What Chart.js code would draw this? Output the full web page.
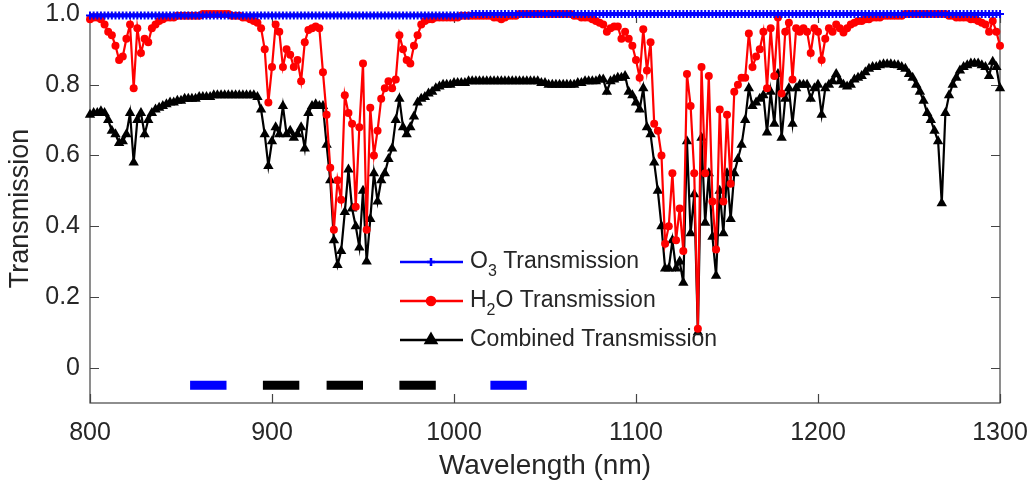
<!DOCTYPE html>
<html>
<head>
<meta charset="utf-8">
<script src="https://cdn.jsdelivr.net/npm/chart.js@4.4.1/dist/chart.umd.min.js"></script>
<style>
  html, body { margin: 0; padding: 0; background: #fff; }
  canvas { display: block; }
</style>
</head>
<body>
<canvas id="trans" width="1029" height="488"></canvas>
<script>
// wavelength grid, 800..1300 nm every 2 nm
const wavelengths = [];
for (let w = 800; w <= 1300; w += 2) wavelengths.push(w);

// ozone transmission
const o3 = [
  0.996,0.996,0.996,0.996,0.996,0.996,0.996,0.996,0.996,0.996,
  0.996,0.996,0.996,0.996,0.996,0.996,0.996,0.996,0.996,0.996,
  0.996,0.996,0.996,0.996,0.996,0.996,0.996,0.996,0.996,0.996,
  0.996,0.996,0.996,0.996,0.996,0.996,0.996,0.996,0.996,0.996,
  0.996,0.996,0.996,0.996,0.996,0.996,0.996,0.996,0.996,0.996,
  0.996,0.996,0.996,0.996,0.996,0.996,0.996,0.996,0.996,0.996,
  0.996,0.996,0.996,0.996,0.996,0.996,0.996,0.996,0.996,0.996,
  0.996,0.996,0.996,0.996,0.996,0.996,0.996,0.996,0.996,0.996,
  0.996,0.996,0.996,0.996,0.996,0.996,0.996,0.996,0.996,0.996,
  0.996,0.996,0.996,0.996,0.996,0.996,0.996,0.996,0.996,0.996,
  0.996,0.996,0.996,0.996,0.996,1.0,1.0,1.0,1.0,1.0,
  1.0,1.0,1.0,1.0,1.0,1.0,1.0,1.0,1.0,1.0,
  1.0,1.0,1.0,1.0,1.0,1.0,1.0,1.0,1.0,1.0,
  1.0,1.0,1.0,1.0,1.0,1.0,1.0,1.0,1.0,1.0,
  1.0,1.0,1.0,1.0,1.0,1.0,1.0,1.0,1.0,1.0,
  1.0,1.0,1.0,1.0,1.0,1.0,1.0,1.0,1.0,1.0,
  1.0,1.0,1.0,1.0,1.0,1.0,1.0,1.0,1.0,1.0,
  1.0,1.0,1.0,1.0,1.0,1.0,1.0,1.0,1.0,1.0,
  1.0,1.0,1.0,1.0,1.0,1.0,1.0,1.0,1.0,1.0,
  1.0,1.0,1.0,1.0,1.0,1.0,1.0,1.0,1.0,1.0,
  1.0,1.0,1.0,1.0,1.0,1.0,1.0,1.0,1.0,1.0,
  1.0,1.0,1.0,1.0,1.0,1.0,1.0,1.0,1.0,1.0,
  1.0,1.0,1.0,1.0,1.0,1.0,1.0,1.0,1.0,1.0,
  1.0,1.0,1.0,1.0,1.0,1.0,1.0,1.0,1.0,1.0,
  1.0,1.0,1.0,1.0,1.0,1.0,1.0,1.0,1.0,1.0,
  1.0
];

// water vapour transmission
const h2o = [
  0.985,0.99,0.99,0.985,0.97,0.95,0.94,0.91,0.87,0.88,        // 800
  0.93,0.97,0.79,0.96,0.89,0.93,0.92,0.96,0.97,0.98,          // 820
  0.985,0.99,0.99,0.99,0.995,0.995,0.995,0.995,0.995,0.995,   // 840
  0.995,1.0,1.0,1.0,1.0,1.0,1.0,1.0,1.0,0.995,                // 860
  0.995,0.995,0.99,0.99,0.985,0.98,0.975,0.96,0.90,0.75,      // 880
  0.85,0.97,0.95,0.85,0.90,0.885,0.85,0.87,0.81,0.92,         // 900
  0.955,0.96,0.965,0.96,0.835,0.715,0.565,0.39,0.53,0.475,    // 920
  0.77,0.72,0.69,0.455,0.68,0.86,0.39,0.735,0.60,0.67,        // 940
  0.76,0.79,0.81,0.79,0.815,0.94,0.90,0.87,0.86,0.91,         // 960
  0.94,0.97,0.98,0.985,0.985,0.99,0.99,0.99,0.99,0.99,        // 980
  0.99,0.99,0.995,0.995,0.995,0.995,0.995,0.995,0.995,0.995,  // 1000
  0.995,0.99,0.99,0.985,0.99,0.995,0.995,0.995,1.0,1.0,       // 1020
  1.0,1.0,1.0,1.0,1.0,1.0,1.0,1.0,1.0,1.0,                    // 1040
  1.0,1.0,1.0,0.995,0.995,0.99,0.99,0.99,0.985,0.98,          // 1060
  0.975,0.97,0.95,0.96,0.965,0.965,0.93,0.95,0.93,0.91,       // 1080
  0.87,0.82,0.957,0.84,0.92,0.69,0.67,0.60,0.35,0.40,         // 1100
  0.55,0.36,0.45,0.33,0.83,0.74,0.55,0.11,0.85,0.55,          // 1120
  0.825,0.47,0.334,0.73,0.47,0.715,0.52,0.78,0.80,0.82,       // 1140
  0.82,0.945,0.85,0.88,0.90,0.95,0.79,0.96,0.825,0.99,        // 1160
  0.775,0.95,0.975,0.815,0.96,0.95,0.96,0.95,0.89,0.96,       // 1180
  0.95,0.87,0.93,0.96,0.95,0.97,0.96,0.948,0.96,0.97,         // 1200
  0.975,0.98,0.98,0.985,0.985,0.99,0.99,0.99,0.995,0.995,     // 1220
  0.995,0.995,0.995,0.995,1.0,1.0,1.0,1.0,1.0,1.0,            // 1240
  1.0,1.0,1.0,1.0,1.0,1.0,0.995,0.995,0.99,0.99,              // 1260
  0.99,0.99,0.985,0.985,0.98,0.975,0.97,0.95,0.98,0.95,       // 1280
  0.91                                                        // 1300
];

// combined transmission
const combined = [
  0.715,0.72,0.72,0.725,0.72,0.70,0.67,0.66,0.635,0.64,       // 800
  0.66,0.72,0.58,0.70,0.72,0.66,0.70,0.72,0.73,0.735,         // 820
  0.74,0.745,0.75,0.75,0.755,0.755,0.76,0.76,0.76,0.76,       // 840
  0.765,0.765,0.765,0.765,0.77,0.77,0.77,0.77,0.77,0.77,      // 860
  0.77,0.77,0.77,0.77,0.77,0.77,0.765,0.73,0.66,0.57,         // 880
  0.64,0.68,0.66,0.74,0.66,0.67,0.65,0.66,0.68,0.62,          // 900
  0.72,0.74,0.745,0.74,0.74,0.63,0.53,0.36,0.29,0.33,         // 920
  0.44,0.56,0.45,0.40,0.34,0.50,0.30,0.42,0.55,0.47,          // 940
  0.53,0.55,0.59,0.62,0.70,0.76,0.68,0.66,0.68,0.71,          // 960
  0.75,0.76,0.765,0.775,0.78,0.79,0.795,0.80,0.80,0.80,       // 980
  0.805,0.805,0.805,0.805,0.81,0.81,0.81,0.81,0.81,0.81,      // 1000
  0.81,0.81,0.81,0.81,0.81,0.81,0.81,0.81,0.81,0.81,          // 1020
  0.81,0.81,0.81,0.81,0.805,0.805,0.80,0.80,0.80,0.80,        // 1040
  0.80,0.80,0.80,0.80,0.805,0.805,0.81,0.81,0.81,0.81,        // 1060
  0.815,0.815,0.78,0.81,0.815,0.82,0.82,0.825,0.78,0.77,      // 1080
  0.75,0.73,0.79,0.68,0.66,0.58,0.50,0.40,0.28,0.28,          // 1100
  0.36,0.28,0.30,0.24,0.64,0.38,0.49,0.10,0.65,0.41,          // 1120
  0.55,0.37,0.26,0.50,0.38,0.55,0.42,0.55,0.59,0.63,          // 1140
  0.70,0.79,0.74,0.75,0.76,0.77,0.665,0.78,0.69,0.83,         // 1160
  0.65,0.76,0.79,0.69,0.79,0.80,0.80,0.80,0.76,0.79,          // 1180
  0.80,0.715,0.79,0.80,0.81,0.83,0.81,0.80,0.795,0.80,        // 1200
  0.815,0.82,0.825,0.835,0.845,0.85,0.85,0.855,0.858,0.858,   // 1220
  0.858,0.856,0.855,0.85,0.845,0.83,0.82,0.80,0.78,0.755,     // 1240
  0.72,0.70,0.67,0.64,0.465,0.72,0.77,0.80,0.82,0.84,         // 1260
  0.85,0.855,0.86,0.86,0.86,0.855,0.85,0.825,0.865,0.85,      // 1280
  0.79                                                        // 1300
];

// marked bands below the curves (nm)
const bandStart = [855, 895, 930, 970, 1020];
const bandEnd   = [875, 915, 950, 990, 1040];
const bandGas   = ['O3', 'H2O', 'H2O', 'H2O', 'O3'];
const bandLevel = -0.05;

const xTicks = [800, 900, 1000, 1100, 1200, 1300];
const yTicks = [0, 0.2, 0.4, 0.6, 0.8, 1.0];

const FONT = "'Liberation Sans', Arial, Helvetica, sans-serif";
const TEXT = '#262626';

function pts(values) {
  return wavelengths.map((w, i) => ({ x: w, y: values[i] }));
}

const datasets = [
  {
    label: 'O3 Transmission', data: pts(o3),
    borderColor: '#0000ff', backgroundColor: '#0000ff',
    borderWidth: 4, pointStyle: 'cross', pointRadius: 4, pointBorderWidth: 2,
    clip: false
  },
  {
    label: 'H2O Transmission', data: pts(h2o),
    borderColor: '#ff0000', backgroundColor: '#ff0000',
    borderWidth: 2.2, pointStyle: 'circle', pointRadius: 4, pointBorderWidth: 0,
    clip: false
  },
  {
    label: 'Combined Transmission', data: pts(combined),
    borderColor: '#000000', backgroundColor: '#000000',
    borderWidth: 2.2, pointStyle: 'triangle', pointRadius: 6, pointBorderWidth: 0,
    clip: false
  }
];

bandStart.forEach((s, i) => {
  const c = bandGas[i] === 'O3' ? '#0000ff' : '#000000';
  datasets.push({
    label: 'band', data: [{ x: s, y: bandLevel }, { x: bandEnd[i], y: bandLevel }],
    borderColor: c, borderWidth: 9, borderCapStyle: 'butt', pointRadius: 0
  });
});

// axes box with inward ticks on all four sides
const frame = {
  id: 'frame',
  beforeDatasetsDraw(chart) {
    const { ctx, chartArea: a, scales: { x, y } } = chart;
    ctx.save();
    ctx.strokeStyle = '#444';
    ctx.lineWidth = 1.2;
    ctx.strokeRect(a.left, a.top, a.right - a.left, a.bottom - a.top);
    ctx.beginPath();
    xTicks.forEach(v => {
      const px = Math.round(x.getPixelForValue(v)) + 0.5;
      ctx.moveTo(px, a.bottom); ctx.lineTo(px, a.bottom - 9);
      ctx.moveTo(px, a.top); ctx.lineTo(px, a.top + 9);
    });
    yTicks.forEach(v => {
      const py = Math.round(y.getPixelForValue(v)) + 0.5;
      ctx.moveTo(a.left, py); ctx.lineTo(a.left + 9, py);
      ctx.moveTo(a.right, py); ctx.lineTo(a.right - 9, py);
    });
    ctx.stroke();
    ctx.restore();
  }
};

// legend inside the plot, with subscripts
const legendRows = [
  { color: '#0000ff', style: 'cross', radius: 4, bw: 2, parts: [['O', 0], ['3', 1], [' Transmission', 0]] },
  { color: '#ff0000', style: 'circle', radius: 4, bw: 0, parts: [['H', 0], ['2', 1], ['O Transmission', 0]] },
  { color: '#000000', style: 'triangle', radius: 6, bw: 0, parts: [['Combined Transmission', 0]] }
];

const insideLegend = {
  id: 'insideLegend',
  afterDatasetsDraw(chart) {
    const { ctx, chartArea: a } = chart;
    const x0 = a.left + 310, y0 = a.top + 248, gap = 39;
    ctx.save();
    legendRows.forEach((r, i) => {
      const yy = y0 + i * gap;
      ctx.strokeStyle = r.color;
      ctx.fillStyle = r.color;
      ctx.lineWidth = 2.5;
      ctx.beginPath();
      ctx.moveTo(x0, yy); ctx.lineTo(x0 + 63, yy);
      ctx.stroke();
      Chart.helpers.drawPoint(ctx, { pointStyle: r.style, radius: r.radius, borderWidth: r.bw || 1, rotation: 0 }, x0 + 31, yy);
      let tx = x0 + 70;
      ctx.fillStyle = TEXT;
      ctx.textBaseline = 'middle';
      ctx.textAlign = 'left';
      r.parts.forEach(([t, sub]) => {
        ctx.font = (sub ? 16 : 23) + 'px ' + FONT;
        ctx.fillText(t, tx, yy + (sub ? 10 : 0));
        tx += ctx.measureText(t).width;
      });
    });
    ctx.restore();
  }
};

const ctx = document.getElementById('trans').getContext('2d');
new Chart(ctx, {
  type: 'line',
  data: { datasets: datasets },
  options: {
    responsive: false,
    animation: false,
    layout: { padding: { top: 14, right: 29, left: 0, bottom: 0 } },
    elements: { line: { tension: 0 } },
    plugins: { legend: { display: false }, tooltip: { enabled: false } },
    scales: {
      x: {
        type: 'linear', min: 800, max: 1300,
        afterBuildTicks: s => { s.ticks = xTicks.map(v => ({ value: v })); },
        afterFit: s => { s.height = 85; s.paddingLeft = 0; s.paddingRight = 0; },
        grid: { display: false, drawTicks: false },
        border: { display: false },
        ticks: {
          color: TEXT, padding: 15, maxRotation: 0, font: { family: FONT, size: 25 },
          callback: v => String(v)
        },
        title: { display: true, text: 'Wavelength (nm)', color: TEXT, padding: { top: 0, bottom: 5 }, font: { family: FONT, size: 28 } }
      },
      y: {
        min: -0.1, max: 1.0,
        afterBuildTicks: s => { s.ticks = yTicks.map(v => ({ value: v })); },
        afterFit: s => { s.width = 90; s.paddingTop = 0; s.paddingBottom = 0; },
        grid: { display: false, drawTicks: false },
        border: { display: false },
        ticks: {
          color: TEXT, padding: 10, font: { family: FONT, size: 25 },
          callback: v => v === 0 ? '0' : v.toFixed(1)
        },
        title: { display: true, text: 'Transmission', color: TEXT, padding: { top: 4, bottom: 0 }, font: { family: FONT, size: 27 } }
      }
    }
  },
  plugins: [frame, insideLegend]
});
</script>
</body>
</html>
